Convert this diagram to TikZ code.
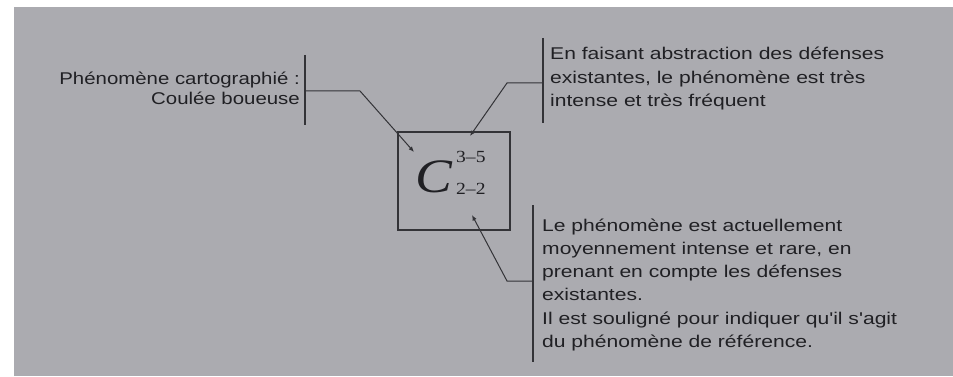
\documentclass[tikz,border=0pt]{standalone}
\usepackage{fontspec}
\setmainfont{Liberation Sans}
\newfontfamily\lab[FakeStretch=1.24]{Liberation Sans}
\newfontfamily\labl[FakeStretch=1.2]{Liberation Sans}
\newfontfamily\tms[FakeStretch=1.15]{Liberation Serif}
\usetikzlibrary{arrows.meta}
\definecolor{paper}{HTML}{ABABB0}
\definecolor{ink}{HTML}{202024}
\definecolor{rulec}{HTML}{333337}
\begin{document}
\begin{tikzpicture}[x=1pt,y=-1pt,
  txt/.style={inner sep=0pt, text=ink, font=\lab\fontsize{17}{23.3}\selectfont, align=left},
  barline/.style={draw=rulec, line width=1.1pt},
  conn/.style={draw=rulec, line width=1pt, -{Latex[length=5.5pt,width=4.5pt]}},
  math/.style={inner sep=0pt, text=ink}
]
\useasboundingbox (0,0) rectangle (953,377);
\fill[white] (0,0) rectangle (953,377);
\fill[paper] (14,7) rectangle (953,376);

% texts (base anchor = baseline of the last line)
\node[txt, align=right, anchor=base east, font=\labl\fontsize{17}{20}\selectfont] (lt) at (300,105) {Phénomène cartographié :\\Coulée boueuse};
\node[txt, anchor=base west] (tr) at (550,106.6) {En faisant abstraction des défenses\\existantes, le phénomène est très\\intense et très fréquent};
\node[txt, anchor=base west] (br) at (542,347.5) {Le phénomène est actuellement\\moyennement intense et rare, en\\prenant en compte les défenses\\existantes.\\Il est souligné pour indiquer qu'il s'agit\\du phénomène de référence.};

% bars
\coordinate (lbT) at (305,55); \coordinate (lbB) at (305,125);
\coordinate (tbT) at (543,38); \coordinate (tbB) at (543,123);
\coordinate (bbT) at (533,205); \coordinate (bbB) at (533,362);
\draw[barline] (lbT) -- (lbB);
\draw[barline] (tbT) -- (tbB);
\draw[barline] (bbT) -- (bbB);

% box with symbol
\node[draw=rulec, line width=1.3pt, minimum width=112pt, minimum height=98pt, inner sep=0pt] (box) at (454,181) {};
\node[math, anchor=base west, font=\tms\itshape\fontsize{48}{48}\selectfont] (C) at (415,193) {C};
\node[math, anchor=base west, font=\tms\fontsize{17}{17}\selectfont] (sup) at (456,163) {3–5};
\node[math, anchor=base west, font=\tms\fontsize{17}{17}\selectfont] (sub) at (456,194) {2–2};

% connectors
\coordinate (l0) at (305,91); \coordinate (l1) at (360,91); \coordinate (lE) at (414,152);
\coordinate (t0) at (543,83); \coordinate (t1) at (507,83); \coordinate (tE) at (470,136);
\coordinate (b0) at (533,281); \coordinate (b1) at (507,281); \coordinate (bE) at (472,215);
\draw[conn] (l0) -- (l1) -- (lE);
\draw[conn] (t0) -- (t1) -- (tE);
\draw[conn] (b0) -- (b1) -- (bE);
\end{tikzpicture}
\end{document}
